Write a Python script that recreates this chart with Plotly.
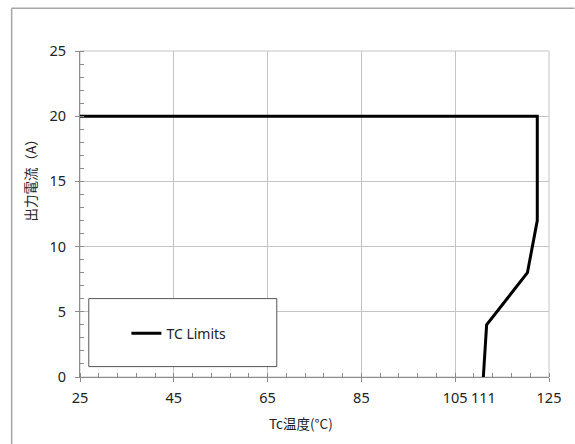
import plotly.graph_objects as go

# Data
tc_temp = [25, 122.5, 122.5, 120.4, 111.7, 111]
out_current = [20, 20, 12, 8, 4, 0]
series_name = "TC Limits"
x_title = "Tc温度(°C)"
y_title = "出力電流（A）"
extra_xtick = [111]
extra_xtick_text = ["111"]

W, H = 575, 444
L, R, T, B = 79.5, 549.5, 50.7, 376.7
pw, ph = R - L, B - T

def px(x):
    return (x - L) / pw

def py(y):
    return (B - y) / ph

FONT = "Noto Sans, DejaVu Sans, sans-serif"
CJK = "Noto Sans CJK JP, Noto Sans, sans-serif"
GRID = "#c4c4c4"
AXIS = "#8c8c8c"

fig = go.Figure()
fig.add_trace(go.Scatter(
    x=tc_temp, y=out_current, mode="lines", name=series_name,
    line=dict(color="black", width=3), showlegend=True,
))
# invisible helper trace on secondary x axis for the extra "111" tick
fig.add_trace(go.Scatter(x=extra_xtick, y=[0], xaxis="x2", mode="markers",
                         marker=dict(opacity=0), showlegend=False, hoverinfo="skip"))

tickfont = dict(family=FONT, size=14.5, color="#222")
axis_common = dict(
    showline=True, linecolor=AXIS, linewidth=1,
    showgrid=True, gridcolor=GRID, gridwidth=1,
    ticks="outside", ticklen=4, tickcolor=AXIS,
    tickfont=tickfont, zeroline=False, layer="above traces",
)
fig.update_layout(
    width=W, height=H,
    margin=dict(l=L, r=W - R, t=T, b=H - B),
    paper_bgcolor="white", plot_bgcolor="white",
    xaxis=dict(range=[25, 125], tickmode="linear", tick0=25, dtick=20,
               minor=dict(ticks="inside", ticklen=4, tickcolor=AXIS,
                          tick0=25, dtick=4, showgrid=False),
               ticklabelstandoff=4, **axis_common),
    xaxis2=dict(range=[25, 125], overlaying="x", side="bottom", anchor="y",
                tickmode="array", tickvals=extra_xtick, ticktext=extra_xtick_text,
                showgrid=False, showline=False, ticks="outside", ticklen=4,
                tickcolor="rgba(0,0,0,0)", ticklabelstandoff=4,
                zeroline=False, tickfont=tickfont),
    yaxis=dict(range=[0, 25], tickmode="linear", tick0=0, dtick=5,
               minor=dict(ticks="inside", ticklen=4, tickcolor=AXIS,
                          tick0=0, dtick=1, showgrid=False),
               ticklabelstandoff=6, **axis_common),
    legend=dict(x=px(126), y=py(333.3), xanchor="left", yanchor="middle",
                bgcolor="rgba(0,0,0,0)", borderwidth=0,
                font=dict(family=FONT, size=14, color="#222")),
    showlegend=True,
)
# plot frame (top/right edges in grid colour)
fig.add_shape(type="rect", xref="paper", yref="paper", x0=0, x1=1, y0=0, y1=1,
              line=dict(color=GRID, width=1), layer="below")
# legend box
fig.add_shape(type="rect", xref="paper", yref="paper",
              x0=px(88.3), x1=px(276.7), y0=py(366.3), y1=py(298.3),
              line=dict(color="#555", width=1), fillcolor="white", layer="above")
# outer chart border (left and top)
fig.add_shape(type="line", xref="paper", yref="paper",
              x0=px(11), x1=px(11), y0=py(444), y1=py(8),
              line=dict(color="#a6a6a6", width=1.5))
fig.add_shape(type="line", xref="paper", yref="paper",
              x0=px(11), x1=px(575), y0=py(8), y1=py(8),
              line=dict(color="#a6a6a6", width=1.5))

fig.add_annotation(text=y_title, xref="paper", yref="paper",
                   x=px(29.5), y=py(177), textangle=-90, showarrow=False,
                   xanchor="center", yanchor="middle",
                   font=dict(family=CJK, size=13.5, color="#222"))
fig.add_annotation(text=x_title, xref="paper", yref="paper",
                   x=px(300.5), y=py(422.7), showarrow=False,
                   xanchor="center", yanchor="middle",
                   font=dict(family=CJK, size=13.5, color="#222"))

fig.write_html("out.html")
